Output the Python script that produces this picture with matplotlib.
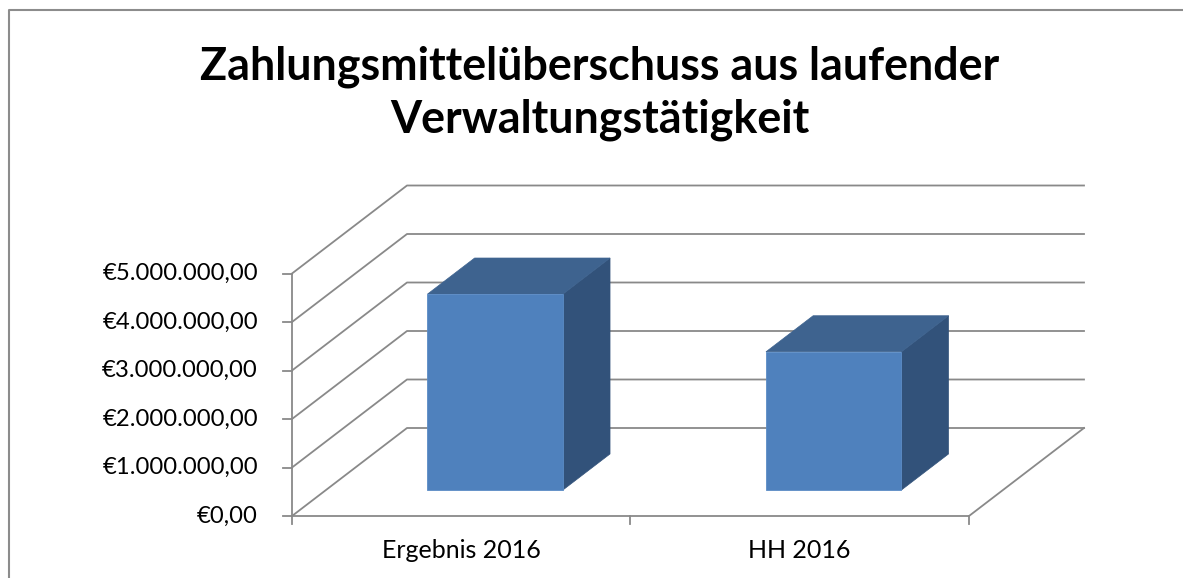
import matplotlib
matplotlib.use("Agg")
import matplotlib.pyplot as plt
from matplotlib.patches import Polygon

# data
categories = ["Ergebnis 2016", "HH 2016"]
values = [4040000, 2850000]
yticks = [0, 1000000, 2000000, 3000000, 4000000, 5000000]
title = "Zahlungsmittelüberschuss aus laufender\nVerwaltungstätigkeit"

# 3d-ish projection (pixel space)
X0, Y0 = 292, 516          # front-left corner of the floor
CAT_W = 338.5              # pixels per category
PX_PER_EUR = 48.5 / 1e6    # pixels per euro
DX, DY = 115, 88           # full depth offset
GRID = "#898989"

def proj(c, v, d):
    return (X0 + c * CAT_W + d * DX, Y0 - v * PX_PER_EUR - d * DY)

def euro(v):
    s = "{:,.2f}".format(v)
    s = s.replace(",", "X").replace(".", ",").replace("X", ".")
    return "€" + s

plt.rcParams['font.family'] = ['Lato', 'DejaVu Sans']
fig = plt.figure(figsize=(11.83, 5.78), dpi=100)
ax = fig.add_axes([0, 0, 1, 1])
ax.set_xlim(0, 1183)
ax.set_ylim(578, 0)
ax.axis("off")

# chart border
ax.plot([9, 9, 1183], [578, 10, 10], color="#8c8c8c", lw=1.5)

n = len(categories)
# back wall and side wall gridlines
for v in yticks:
    bx0, by0 = proj(0, v, 1)
    bx1, by1 = proj(n, v, 1)
    fx, fy = proj(0, v, 0)
    ax.plot([fx, bx0, bx1], [fy, by0, by1], color=GRID, lw=1.3, zorder=1)

# floor
p = [proj(0, 0, 0), proj(n, 0, 0), proj(n, 0, 1)]
ax.plot([q[0] for q in p], [q[1] for q in p], color=GRID, lw=1.3, zorder=1)

# value axis
top = proj(0, yticks[-1], 0)
ax.plot([X0, X0], [Y0, top[1]], color=GRID, lw=1.3, zorder=1)
for v in yticks:
    x, y = proj(0, v, 0)
    ax.plot([x - 9, x], [y, y], color=GRID, lw=1.3, zorder=1)
    ax.text(x - 34, y, euro(v), ha="right", va="center", fontsize=17.2, color="black")

# category ticks and labels
for i in range(n + 1):
    x, y = proj(i, 0, 0)
    ax.plot([x, x], [y, y + 8], color=GRID, lw=1.3, zorder=1)
for i, c in enumerate(categories):
    x, y = proj(i + 0.5, 0, 0)
    ax.text(x, y + 34, c, ha="center", va="center", fontsize=18, color="black")

# bars
front_c, top_c, side_c = "#4f81bd", "#3e638f", "#32527a"
bw = 0.4
d0, d1 = 0.295, 0.705
for i, v in enumerate(values):
    l, r = i + 0.5 - bw / 2, i + 0.5 + bw / 2
    front = [proj(l, 0, d0), proj(r, 0, d0), proj(r, v, d0), proj(l, v, d0)]
    topf = [proj(l, v, d0), proj(r, v, d0), proj(r, v, d1), proj(l, v, d1)]
    side = [proj(r, 0, d0), proj(r, 0, d1), proj(r, v, d1), proj(r, v, d0)]
    ax.add_patch(Polygon(side, closed=True, fc=side_c, ec=side_c, lw=0.5, zorder=3))
    ax.add_patch(Polygon(topf, closed=True, fc=top_c, ec=top_c, lw=0.5, zorder=3))
    ax.add_patch(Polygon(front, closed=True, fc=front_c, ec="#5b8cc6", lw=0.6, zorder=4))

ax.text(600, 93, title, ha="center", va="center", fontsize=32.3, fontweight="bold",
        linespacing=1.3, color="black")

fig.savefig("out.png", dpi=100)
